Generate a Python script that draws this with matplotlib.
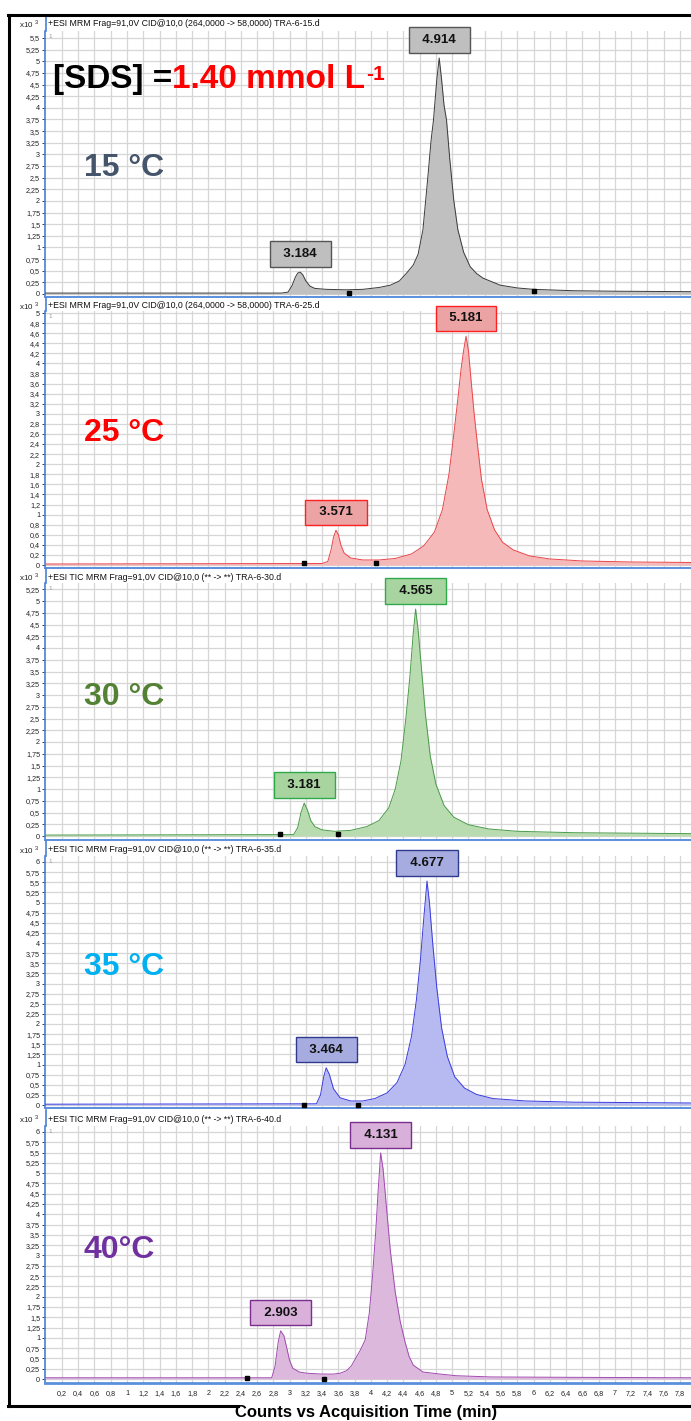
import matplotlib.pyplot as plt
from matplotlib.lines import Line2D
from matplotlib.ticker import FuncFormatter
import numpy as np

plt.rcParams['font.family'] = ['Liberation Sans', 'DejaVu Sans']
plt.rcParams['mathtext.fontset'] = 'custom'
plt.rcParams['mathtext.rm'] = 'Liberation Sans'

# Chromatogram traces (time in min, counts x10^3)
t15 = [0.0, 2.90, 2.98, 3.03, 3.07, 3.10, 3.13, 3.16, 3.20, 3.25, 3.31, 3.45, 3.70, 3.90, 4.10,
       4.24, 4.35, 4.44, 4.52, 4.58, 4.64, 4.70, 4.74, 4.77, 4.81, 4.84, 4.87, 4.90, 4.93, 4.97,
       5.02, 5.07, 5.14, 5.22, 5.30, 5.38, 5.59, 5.80, 6.00, 6.50, 7.00, 7.94]
c15 = [0.02, 0.02, 0.04, 0.18, 0.36, 0.45, 0.47, 0.42, 0.28, 0.17, 0.12, 0.10, 0.09, 0.10, 0.14,
       0.19, 0.28, 0.45, 0.62, 0.85, 1.38, 2.50, 3.30, 3.74, 4.60, 5.07, 4.60, 4.05, 3.74, 2.90,
       2.00, 1.38, 0.90, 0.59, 0.44, 0.34, 0.19, 0.13, 0.10, 0.07, 0.06, 0.05]

t25 = [0.0, 3.40, 3.47, 3.51, 3.54, 3.57, 3.60, 3.63, 3.67, 3.75, 3.90, 4.10, 4.30, 4.50, 4.65,
       4.78, 4.88, 4.96, 5.02, 5.07, 5.11, 5.14, 5.17, 5.20, 5.23, 5.27, 5.31, 5.36, 5.43, 5.52,
       5.62, 5.75, 5.95, 6.20, 6.60, 7.20, 7.94]
c25 = [0.02, 0.03, 0.07, 0.30, 0.55, 0.69, 0.60, 0.40, 0.24, 0.14, 0.10, 0.10, 0.13, 0.22, 0.38,
       0.65, 1.10, 1.80, 2.60, 3.30, 3.90, 4.25, 4.54, 4.25, 3.70, 3.00, 2.40, 1.70, 1.10, 0.70,
       0.45, 0.30, 0.18, 0.12, 0.08, 0.06, 0.05]

t30 = [0.0, 3.05, 3.10, 3.14, 3.18, 3.22, 3.26, 3.31, 3.40, 3.55, 3.75, 3.95, 4.10, 4.22, 4.30,
       4.37, 4.43, 4.48, 4.52, 4.55, 4.58, 4.62, 4.67, 4.73, 4.80, 4.90, 5.02, 5.20, 5.45, 5.80,
       6.50, 7.94]
c30 = [0.02, 0.03, 0.18, 0.50, 0.70, 0.55, 0.33, 0.20, 0.13, 0.10, 0.12, 0.20, 0.33, 0.60, 1.00,
       1.60, 2.50, 3.40, 4.30, 4.83, 4.40, 3.60, 2.60, 1.70, 1.10, 0.65, 0.40, 0.24, 0.15, 0.10,
       0.07, 0.05]

t35 = [0.0, 3.33, 3.38, 3.42, 3.45, 3.49, 3.54, 3.62, 3.75, 3.90, 4.05, 4.20, 4.32, 4.42, 4.50,
       4.56, 4.61, 4.65, 4.69, 4.72, 4.76, 4.81, 4.87, 4.94, 5.03, 5.15, 5.30, 5.50, 5.90, 6.50,
       7.94]
c35 = [0.02, 0.03, 0.25, 0.70, 0.92, 0.75, 0.40, 0.18, 0.10, 0.10, 0.16, 0.30, 0.55, 1.00, 1.70,
       2.60, 3.60, 4.60, 5.53, 5.00, 4.00, 2.90, 1.90, 1.20, 0.70, 0.42, 0.26, 0.16, 0.10, 0.07,
       0.05]

t40 = [0.0, 2.78, 2.82, 2.86, 2.89, 2.93, 2.96, 3.00, 3.04, 3.12, 3.21, 3.40, 3.54, 3.62, 3.70,
       3.76, 3.80, 3.87, 3.93, 3.98, 4.02, 4.06, 4.09, 4.12, 4.15, 4.19, 4.24, 4.30, 4.36, 4.42,
       4.47, 4.52, 4.64, 4.85, 5.05, 5.47, 6.50, 7.94]
c40 = [0.03, 0.03, 0.30, 0.90, 1.17, 1.05, 0.80, 0.45, 0.26, 0.17, 0.14, 0.12, 0.12, 0.14, 0.20,
       0.32, 0.46, 0.70, 0.95, 1.60, 2.50, 3.60, 4.60, 5.49, 5.10, 4.20, 3.10, 2.10, 1.40, 0.90,
       0.55, 0.34, 0.17, 0.12, 0.08, 0.05, 0.04, 0.03]

# Peak apexes and their retention time labels
peak_t = [[3.13, 4.84], [3.57, 5.17], [3.18, 4.55], [3.45, 4.69], [2.89, 4.12]]
peak_c = [[0.47, 5.07], [0.69, 4.54], [0.70, 4.83], [0.92, 5.53], [1.17, 5.49]]
peak_labels = [['3.184', '4.914'], ['3.571', '5.181'], ['3.181', '4.565'],
               ['3.464', '4.677'], ['2.903', '4.131']]

# Integration markers (black squares)
mark_t = [[3.73, 6.01], [3.18, 4.06], [2.88, 3.60], [3.18, 3.84], [2.47, 3.42]]
mark_c = [[0.015, 0.06], [0.04, 0.04], [0.04, 0.04], [0.0, 0.0], [0.03, 0.0]]

temps = ['15 °C', '25 °C', '30 °C', '35 °C', '40°C']
headers = [
    '+ESI MRM Frag=91,0V CID@10,0 (264,0000 -> 58,0000) TRA-6-15.d',
    '+ESI MRM Frag=91,0V CID@10,0 (264,0000 -> 58,0000) TRA-6-25.d',
    '+ESI TIC MRM Frag=91,0V CID@10,0 (** -> **) TRA-6-30.d',
    '+ESI TIC MRM Frag=91,0V CID@10,0 (** -> **) TRA-6-35.d',
    '+ESI TIC MRM Frag=91,0V CID@10,0 (** -> **) TRA-6-40.d',
]
y_steps = [0.25, 0.2, 0.25, 0.25, 0.25]
y_tops = [5.5, 5.0, 5.25, 6.0, 6.0]
x_ticks = np.arange(0.2, 7.81, 0.2)

traces = [(t15, c15), (t25, c25), (t30, c30), (t35, c35), (t40, c40)]

# styling per panel
fill_cols = ['#c0c0c0', '#f6b9b9', '#b8dbb0', '#b6baf0', '#dcb8dc']
line_cols = ['#3a3a3a', '#e8454a', '#4a9a4a', '#3a3ae0', '#a04ab0']
box_fc = ['#bfbfbf', '#eba3a3', '#a8d4a0', '#a6acdf', '#d9b0d9']
box_ec = ['#555555', '#ff2020', '#2eaa4a', '#2f3a8f', '#7a2f8f']
temp_cols = ['#44546a', '#ff0000', '#548235', '#00b0f0', '#7030a0']
temp_pos = [(0.96, 2.70), (0.96, 2.62), (0.96, 2.96), (0.96, 3.40), (0.90, 3.13)]

# panel layout in pixels: header top, plot top, plot bottom, zero pixel, px per unit
W, H = 691, 1421
layout = [(15, 31, 297, 294, 46.55),
          (298, 311, 568, 565, 50.4),
          (569, 583, 840, 836, 47.0),
          (841, 856, 1108, 1105, 40.5),
          (1110, 1126, 1383, 1379, 41.17)]
x0_px, x_ppu = 45.7, 81.3
ax_left = 45

def fy(y):
    return 1 - y / H

fmt = FuncFormatter(lambda v, p: f'{round(v, 2):g}'.replace('.', ','))
blue = '#4a7fd4'

fig = plt.figure(figsize=(W / 100, H / 100), dpi=100)
axes = []
for i, (htop, top, bot, zero, ppu) in enumerate(layout):
    ax = fig.add_axes([ax_left / W, fy(bot), (W - ax_left) / W, (bot - top) / H])
    axes.append(ax)
    t, c = traces[i]
    ax.fill_between(t, c, 0, color=fill_cols[i], lw=0, zorder=2)
    ax.plot(t, c, color=line_cols[i], lw=0.7, zorder=3)
    ax.plot(mark_t[i], mark_c[i], 's', color='black', ms=3.2, zorder=4)

    ax.set_xlim(-(x0_px - ax_left) / x_ppu, (W - x0_px) / x_ppu)
    ax.set_ylim(-(bot - zero) / ppu, (zero - top) / ppu)
    ax.set_yticks(np.arange(0, y_tops[i] + 1e-6, y_steps[i]))
    ax.yaxis.set_major_formatter(fmt)
    ax.set_xticks(x_ticks)
    ax.xaxis.set_major_formatter(fmt)
    ax.set_axisbelow(True)
    ax.grid(True, color='#d6d6d6', lw=0.9)
    ax.tick_params(axis='y', length=2.5, width=0.6, pad=1, labelsize=5.2, colors='#222222')
    ax.tick_params(axis='x', length=0, pad=5, labelsize=5.2, colors='#222222')
    if i < 4:
        ax.tick_params(axis='x', labelbottom=False)
    for s in ['top', 'right']:
        ax.spines[s].set_visible(False)
    ax.spines['left'].set_color(blue)
    ax.spines['left'].set_linewidth(1.2)
    ax.spines['bottom'].set_color('#5b8fdc')
    ax.spines['bottom'].set_linewidth(2.0 if i == 4 else 1.4)

    # retention time boxes
    for pt, pc, lab in zip(peak_t[i], peak_c[i], peak_labels[i]):
        ax.annotate('  ' + lab + '  ', xy=(pt, pc), xytext=(0, 13), textcoords='offset points',
                    ha='center', va='center', fontsize=9.5, fontweight='bold', color='#111111',
                    bbox=dict(boxstyle='square,pad=0.5', fc=box_fc[i], ec=box_ec[i], lw=1),
                    annotation_clip=False, zorder=6)

    # temperature label
    ax.text(temp_pos[i][0], temp_pos[i][1], temps[i], ha='center', va='center',
            fontsize=23, fontweight='bold', color=temp_cols[i], zorder=6)

    # small trace number and header text
    ax.text(0.006, 0.99, '1', transform=ax.transAxes, fontsize=4.5, color='#999999',
            va='top', ha='left')
    hc = (htop + top) / 2 + 1
    fig.text(48 / W, fy(hc), headers[i], fontsize=6.3, va='center', ha='left', color='#111111')
    fig.text(19 / W, fy(hc), r'x10 $^{3}$', fontsize=5.8, va='center', ha='left', color='#222222')
    fig.add_artist(Line2D([(ax_left + 0.5) / W] * 2, [fy(htop), fy(top)], color=blue, lw=1.2))

# title on the first panel
ax1 = axes[0]
t1 = ax1.text(0.09, 4.43, '[SDS] =', fontsize=24, fontweight='bold', color='black',
              ha='left', va='baseline', zorder=7)
t2 = ax1.annotate('1.40 mmol L', xy=(1, 0), xycoords=t1, ha='left', va='bottom',
                  fontsize=24, fontweight='bold', color='red', zorder=7)
ax1.annotate('-1', xy=(1, 1), xycoords=t2, xytext=(0.5, -1), textcoords='offset points',
             ha='left', va='top', fontsize=15, fontweight='bold', color='red', zorder=7)

# outer frame
lw_frame = 2.2
fig.add_artist(Line2D([9 / W, 9 / W], [fy(15), fy(1406)], color='black', lw=lw_frame))
fig.add_artist(Line2D([8 / W, 1.0], [fy(15), fy(15)], color='black', lw=lw_frame))
fig.add_artist(Line2D([8 / W, 238 / W], [fy(1406), fy(1406)], color='black', lw=lw_frame))
fig.add_artist(Line2D([493 / W, 1.0], [fy(1406), fy(1406)], color='black', lw=lw_frame))

fig.text(366 / W, fy(1412), 'Counts vs Acquisition Time (min)', ha='center', va='center',
         fontsize=12, fontweight='bold', color='black')

fig.savefig('out.png', dpi=100)
